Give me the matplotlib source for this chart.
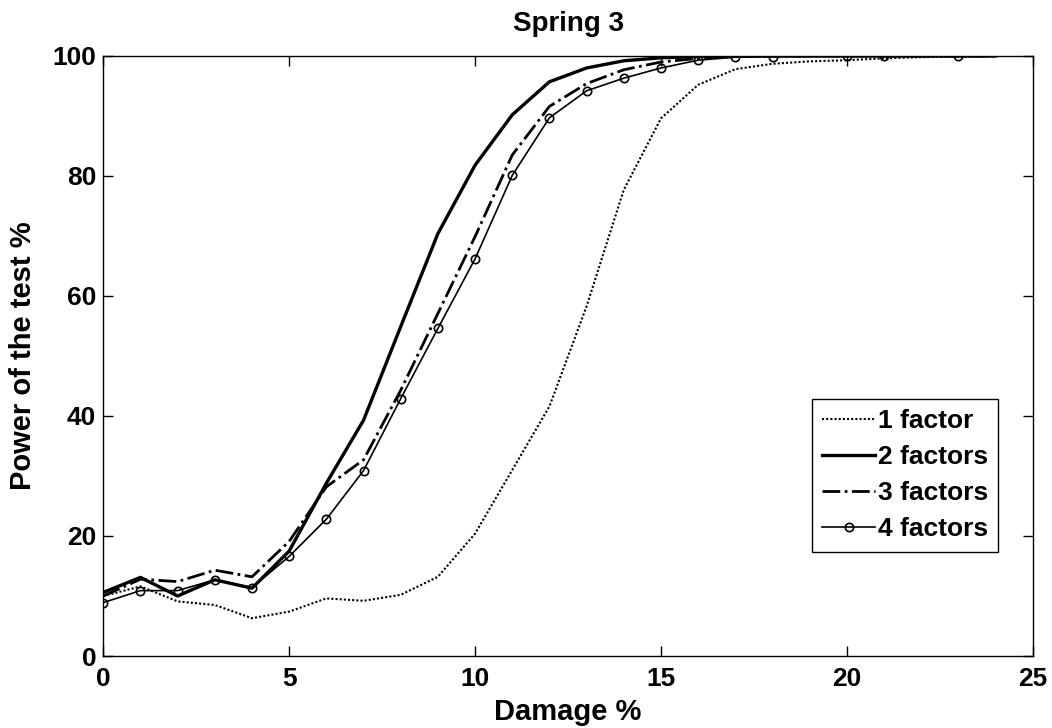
import matplotlib
matplotlib.use('Agg')
import matplotlib.pyplot as plt
import numpy as np

plt.rcParams['font.family'] = ['Liberation Sans', 'DejaVu Sans']
plt.rcParams['font.weight'] = 'bold'

# damage levels (%)
damage = list(range(0, 25))
damage_4 = list(range(0, 19)) + [20, 21, 23]

# power of the test (%)
power_1 = [10.0, 11.6, 9.1, 8.5, 6.3, 7.4, 9.6, 9.2, 10.2, 13.2, 20.4, 31.0, 41.6,
           58.3, 77.7, 89.6, 95.2, 97.8, 98.7, 99.1, 99.3, 99.6, 99.8, 99.9, 100.0]
power_2 = [10.6, 13.1, 10.0, 12.7, 11.3, 17.5, 28.8, 39.3, 54.9, 70.4, 81.8, 90.2, 95.7,
           98.0, 99.2, 99.7, 99.9, 100.0, 100.0, 100.0, 100.0, 100.0, 100.0, 100.0, 100.0]
power_3 = [10.0, 12.8, 12.4, 14.3, 13.2, 19.1, 28.2, 32.7, 44.3, 57.1, 69.9, 83.5, 91.6,
           95.4, 97.7, 99.0, 99.6, 99.9, 100.0, 100.0, 100.0, 100.0, 100.0, 100.0, 100.0]
power_4 = [8.9, 10.9, 10.9, 12.7, 11.4, 16.6, 22.8, 30.9, 42.9, 54.6, 66.2, 80.1, 89.7,
           94.2, 96.3, 98.0, 99.3, 99.8, 99.9, 100.0, 100.0, 100.0]

fig = plt.figure(figsize=(10.52, 7.28), dpi=100)
ax = fig.add_axes([0.0982, 0.0989, 0.8835, 0.8242])

ax.plot(damage, power_1, color='k', linestyle=(0, (1, 1)), linewidth=1.5, label='1 factor')
ax.plot(damage, power_2, color='k', linestyle='-', linewidth=2.4, label='2 factors')
ax.plot(damage, power_3, color='k', linestyle='-.', linewidth=2.0, label='3 factors')
ax.plot(damage_4, power_4, color='k', linestyle='-', linewidth=1.2, marker='o',
        markersize=6, markerfacecolor='none', markeredgewidth=1.2, label='4 factors')

ax.set_xlim(0, 25)
ax.set_ylim(0, 100)
ax.set_xticks([0, 5, 10, 15, 20, 25])
ax.set_yticks([0, 20, 40, 60, 80, 100])
ax.tick_params(direction='in', length=7, width=1, top=True, right=True,
               labelsize=19)
ax.tick_params(axis='x', pad=8)
ax.tick_params(axis='y', pad=5)
for lab in ax.get_xticklabels() + ax.get_yticklabels():
    lab.set_fontweight('bold')
for sp in ax.spines.values():
    sp.set_linewidth(1.0)

ax.set_title('Spring 3', fontsize=20, fontweight='bold', pad=18)
ax.set_xlabel('Damage %', fontsize=21, fontweight='bold', labelpad=5)
ax.set_ylabel('Power of the test %', fontsize=21, fontweight='bold', labelpad=11)

leg = ax.legend(loc='lower right', bbox_to_anchor=(0.963, 0.174), fontsize=19,
                frameon=True, fancybox=False, edgecolor='k', framealpha=1,
                handlelength=2.0, handletextpad=0.1, borderpad=0.4,
                labelspacing=0.45, borderaxespad=0)
leg.get_frame().set_linewidth(1.0)

fig.savefig('out.png', dpi=100)
